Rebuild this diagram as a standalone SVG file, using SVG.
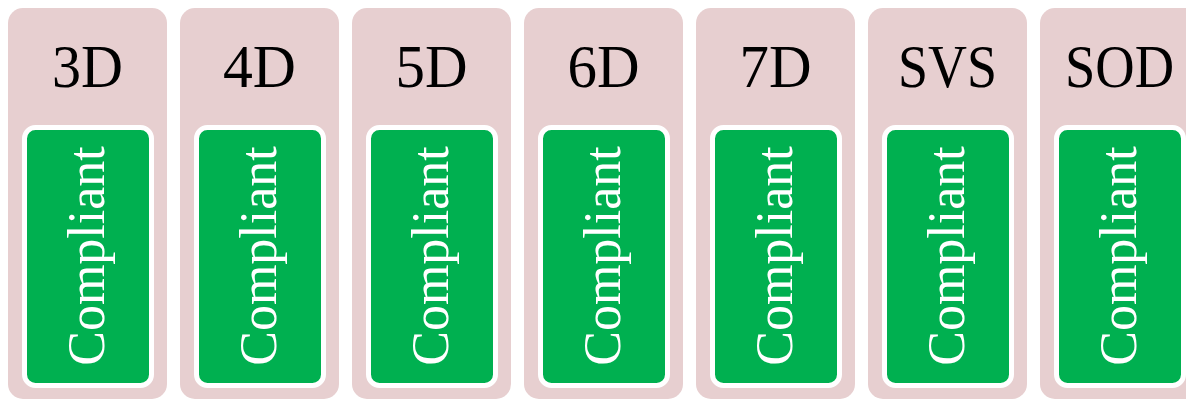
<svg xmlns="http://www.w3.org/2000/svg" width="1186" height="400" viewBox="0 0 1186 400">
<style>
.outer{fill:#E7CFD0}
.inner{fill:#00B050;stroke:#FFFFFF;stroke-width:5}
.hd{font-family:"Liberation Serif",serif;font-size:62px;fill:#000;text-anchor:middle}
.cp{font-family:"Liberation Serif",serif;font-size:52px;fill:#FFFFFF;text-anchor:middle}
</style>
<rect width="1186" height="400" fill="#FFFFFF"/>
<g id="n3D" transform="translate(8,0)">
<rect class="outer" x="0" y="8" width="159" height="391" rx="15"/>
<text class="hd" x="79.5" y="87" textLength="71" lengthAdjust="spacingAndGlyphs">3D</text>
<rect class="inner" x="16.5" y="127.5" width="127" height="258" rx="11"/>
<text class="cp" transform="translate(96,256) rotate(-90)">Compliant</text>
</g>
<g id="n4D" transform="translate(180,0)">
<rect class="outer" x="0" y="8" width="159" height="391" rx="15"/>
<text class="hd" x="79.5" y="87" textLength="73" lengthAdjust="spacingAndGlyphs">4D</text>
<rect class="inner" x="16.5" y="127.5" width="127" height="258" rx="11"/>
<text class="cp" transform="translate(96,256) rotate(-90)">Compliant</text>
</g>
<g id="n5D" transform="translate(352,0)">
<rect class="outer" x="0" y="8" width="159" height="391" rx="15"/>
<text class="hd" x="79.5" y="87" textLength="72" lengthAdjust="spacingAndGlyphs">5D</text>
<rect class="inner" x="16.5" y="127.5" width="127" height="258" rx="11"/>
<text class="cp" transform="translate(96,256) rotate(-90)">Compliant</text>
</g>
<g id="n6D" transform="translate(524,0)">
<rect class="outer" x="0" y="8" width="159" height="391" rx="15"/>
<text class="hd" x="79.5" y="87" textLength="72" lengthAdjust="spacingAndGlyphs">6D</text>
<rect class="inner" x="16.5" y="127.5" width="127" height="258" rx="11"/>
<text class="cp" transform="translate(96,256) rotate(-90)">Compliant</text>
</g>
<g id="n7D" transform="translate(696,0)">
<rect class="outer" x="0" y="8" width="159" height="391" rx="15"/>
<text class="hd" x="79.5" y="87" textLength="72" lengthAdjust="spacingAndGlyphs">7D</text>
<rect class="inner" x="16.5" y="127.5" width="127" height="258" rx="11"/>
<text class="cp" transform="translate(96,256) rotate(-90)">Compliant</text>
</g>
<g id="nSVS" transform="translate(868,0)">
<rect class="outer" x="0" y="8" width="159" height="391" rx="15"/>
<text class="hd" x="79.5" y="87" textLength="99" lengthAdjust="spacingAndGlyphs">SVS</text>
<rect class="inner" x="16.5" y="127.5" width="127" height="258" rx="11"/>
<text class="cp" transform="translate(96,256) rotate(-90)">Compliant</text>
</g>
<g id="nSOD" transform="translate(1040,0)">
<rect class="outer" x="0" y="8" width="159" height="391" rx="15"/>
<text class="hd" x="79.5" y="87" textLength="109" lengthAdjust="spacingAndGlyphs">SOD</text>
<rect class="inner" x="16.5" y="127.5" width="127" height="258" rx="11"/>
<text class="cp" transform="translate(96,256) rotate(-90)">Compliant</text>
</g>
<g id="connectors"/>
</svg>
